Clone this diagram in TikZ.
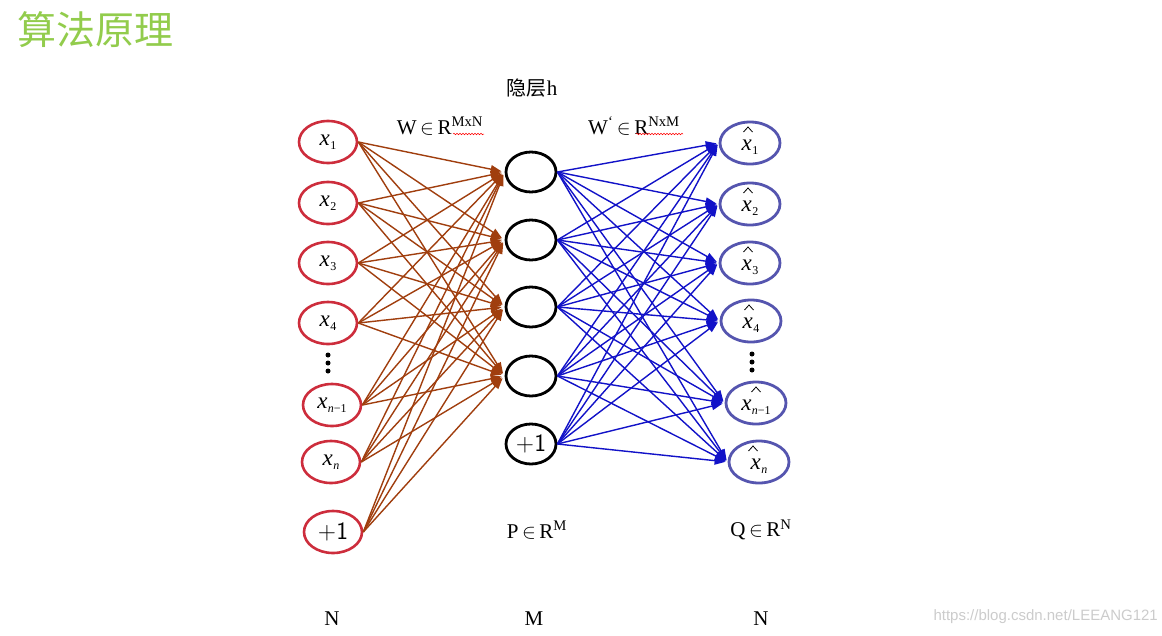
\documentclass[tikz,border=0pt]{standalone}
\usepackage{fontspec}
\setmainfont{Liberation Serif}
\newfontfamily\cjk{Noto Sans CJK SC}
\newfontfamily\wmfont{Liberation Sans}
\usetikzlibrary{arrows.meta,shapes.geometric,decorations.pathmorphing}
\definecolor{titlegreen}{RGB}{146,204,76}
\definecolor{inred}{RGB}{205,45,60}
\definecolor{brownarr}{RGB}{160,62,14}
\definecolor{bluearr}{RGB}{18,18,200}
\definecolor{outblue}{RGB}{85,85,175}
\newcommand\xs[1]{\textit{x}\kern0.5pt\raisebox{-4pt}{\fontsize{12}{12}\selectfont #1}}
\begin{document}
\begin{tikzpicture}[x=1pt,y=-1pt,
  inode/.style={draw=inred,line width=2.6pt,ellipse,minimum width=58pt,minimum height=42pt,inner sep=0pt,font=\fontsize{23}{24}\selectfont},
  hnode/.style={draw=black,line width=2.8pt,ellipse,minimum width=50pt,minimum height=40pt,inner sep=0pt,font=\sffamily\fontsize{25}{26}\selectfont},
  onode/.style={draw=outblue,line width=2.8pt,ellipse,minimum width=60pt,minimum height=42pt,inner sep=0pt},
  otext/.style={inner sep=0pt,font=\fontsize{23}{24}\selectfont},
  brarr/.style={draw=brownarr,line width=1.4pt,-{Triangle[length=11pt,width=8pt]},shorten >=3pt},
  blarr/.style={draw=bluearr,line width=1.4pt,-{Triangle[length=11pt,width=8pt]},shorten >=2pt},
  lbl/.style={font=\fontsize{21}{24}\selectfont,inner sep=0pt},
  squig/.style={red,line width=0.5pt,decorate,decoration={snake,amplitude=0.8pt,segment length=3pt}},
  hatc/.style={line width=0.8pt,line join=miter},
  dotc/.style={fill=black,circle,inner sep=0pt,minimum size=5pt}]
\useasboundingbox (0,0) rectangle (1162,635);
\fill[white] (0,0) rectangle (1162,635);
\node[text=titlegreen,font=\cjk\fontsize{39}{42}\selectfont,anchor=west,inner sep=0pt] (title) at (17,30) {算法原理};

% input layer
\node[inode] (i1) at (328,142) {\xs{1}};
\node[inode] (i2) at (328,203) {\xs{2}};
\node[inode] (i3) at (328,263) {\xs{3}};
\node[inode] (i4) at (328,323) {\xs{4}};
\node[inode] (i5) at (332,405) {\xs{\textit{n}−1}};
\node[inode] (i6) at (331,462) {\xs{\textit{n}}};
\node[inode,font=\sffamily\fontsize{25}{26}\selectfont] (i7) at (333,532) {+1};
\node[dotc] (d1) at (328,355) {};
\node[dotc] (d2) at (328,363) {};
\node[dotc] (d3) at (328,371) {};

% hidden layer
\node[hnode] (h1) at (531,172) {};
\node[hnode] (h2) at (531,240) {};
\node[hnode] (h3) at (531,307) {};
\node[hnode] (h4) at (531,376) {};
\node[hnode] (h5) at (531,444) {+1};

% output layer
\node[onode] (o1) at (750,143) {};
\node[onode] (o2) at (750,204) {};
\node[onode] (o3) at (750,263) {};
\node[onode] (o4) at (751,321) {};
\node[dotc] (e1) at (752,354) {};
\node[dotc] (e2) at (752,362) {};
\node[dotc] (e3) at (752,370) {};
\node[onode] (o5) at (756,403) {};
\node[onode] (o6) at (759,462) {};
\node[otext] (t1) at ([yshift=-4pt]o1.center) {\xs{1}};
\node[otext] (t2) at ([yshift=-4pt]o2.center) {\xs{2}};
\node[otext] (t3) at ([yshift=-4pt]o3.center) {\xs{3}};
\node[otext] (t4) at ([yshift=-4pt]o4.center) {\xs{4}};
\node[otext] (t5) at ([yshift=-4pt]o5.center) {\xs{\textit{n}−1}};
\node[otext] (t6) at ([yshift=-4pt]o6.center) {\xs{\textit{n}}};
\foreach \o/\dx in {o1/-2,o2/-2,o3/-2,o4/-2,o5/0,o6/-6}
  \draw[hatc] ([xshift=\dx pt-4.5pt,yshift=11pt]\o.center) -- ([xshift=\dx pt,yshift=16pt]\o.center) -- ([xshift=\dx pt+4.5pt,yshift=11pt]\o.center);

% connections
\foreach \a in {i1,i2,i3,i4,i5,i6,i7}
  \foreach \b in {h1,h2,h3,h4}
    \draw[brarr] (\a.east) -- (\b.west);
\foreach \a in {h1,h2,h3,h4,h5}
  \foreach \b in {o1,o2,o3,o4,o5,o6}
    \draw[blarr] (\a.east) -- (\b.west);

% labels
\node[lbl] (hl) at (532,88) {{\cjk\fontsize{20}{22}\selectfont 隐层}h};
\node[lbl] (w1) at (440,126) {W\,$\in$\,R\textsuperscript{MxN}};
\node[lbl] (w2) at (634,126) {W\textsuperscript{‘}\,$\in$\,R\textsuperscript{NxM}};
\draw[squig] (453,134) -- (484,134);
\draw[squig] (636,134) -- (683,134);
\node[lbl] (pl) at (537,530) {P\,$\in$\,R\textsuperscript{M}};
\node[lbl] (ql) at (761,530) {Q\,$\in$\,R\textsuperscript{N}};
\node[lbl] (n1) at (332,619) {N};
\node[lbl] (m1) at (534,619) {M};
\node[lbl] (n2) at (761,619) {N};
\node[text=black!20,font=\wmfont\fontsize{15}{17}\selectfont,anchor=east,inner sep=0pt] (wm) at (1158,617) {https://blog.csdn.net/LEEANG121};
\end{tikzpicture}
\end{document}
